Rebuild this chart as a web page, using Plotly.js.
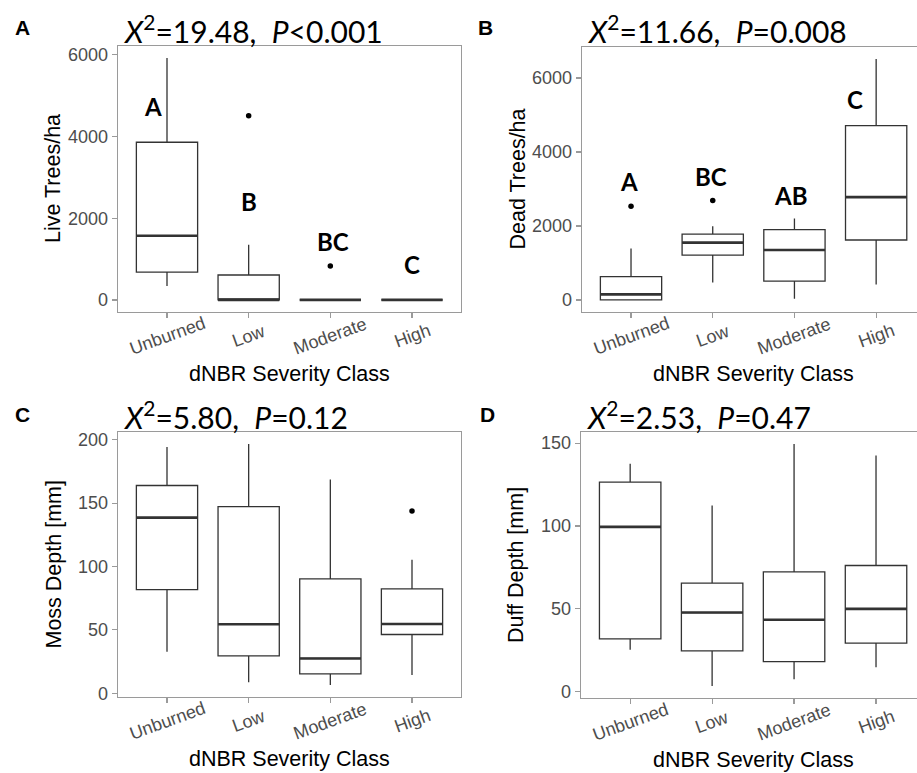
<!DOCTYPE html>
<html>
<head>
<meta charset="utf-8">
<script src="https://cdn.plot.ly/plotly-3.0.1.min.js"></script>
<style>
  html, body { margin: 0; padding: 0; background: #ffffff; }
  #chart { width: 917px; height: 773px; }
</style>
</head>
<body>
<div id="chart"></div>
<script>
// Burn severity classes (dNBR)
const categories = ['Unburned', 'Low', 'Moderate', 'High'];

// A: live trees per hectare
const liveLower  = [340, 0, 0, 0];
const liveQ1     = [680, 0, 0, 0];
const liveMedian = [1570, 0, 0, 0];
const liveQ3     = [3860, 610, 0, 0];
const liveUpper  = [5920, 1350, 0, 0];
const liveOutlierClass = ['Low', 'Moderate'];
const liveOutlierValue = [4510, 830];
const liveLetters = ['A', 'B', 'BC', 'C'];

// B: dead trees per hectare
const deadLower  = [0, 470, 30, 420];
const deadQ1     = [0, 1210, 510, 1620];
const deadMedian = [150, 1550, 1350, 2780];
const deadQ3     = [630, 1780, 1900, 4710];
const deadUpper  = [1390, 1990, 2200, 6510];
const deadOutlierClass = ['Unburned', 'Low'];
const deadOutlierValue = [2530, 2690];
const deadLetters = ['A', 'BC', 'AB', 'C'];

// C: moss depth (mm)
const mossLower  = [32.7, 8.6, 6.5, 14.4];
const mossQ1     = [81.8, 29.5, 15.2, 46.3];
const mossMedian = [138.5, 54.4, 27.4, 54.6];
const mossQ3     = [163.9, 147.2, 90.2, 82.3];
const mossUpper  = [194.2, 196.6, 168.6, 105.3];
const mossOutlierClass = ['High'];
const mossOutlierValue = [143.8];

// D: duff depth (mm)
const duffLower  = [25.2, 3.4, 7.4, 14.7];
const duffQ1     = [31.8, 24.6, 18.1, 29.2];
const duffMedian = [99.4, 47.7, 43.3, 49.9];
const duffQ3     = [126.4, 65.4, 72.3, 76.1];
const duffUpper  = [137.5, 112.3, 149.4, 142.5];
const duffOutlierClass = [];
const duffOutlierValue = [];

// Kruskal-Wallis results per panel
const chiSquare = ['19.48', '11.66', '5.80', '2.53'];
const pValue    = ['<0.001', '=0.008', '=0.12', '=0.47'];

// ---------------------------------------------------------------
const W = 917, H = 773;
const px = v => v / W;
const py = v => 1 - v / H;

const panels = [
  { tag: 'A', ytitle: 'Live Trees/ha', dtick: 2000,
    lower: liveLower, q1: liveQ1, median: liveMedian, q3: liveQ3, upper: liveUpper,
    outX: liveOutlierClass, outY: liveOutlierValue,
    letters: liveLetters, letterX: [-0.17, 1.01, 2.03, 3.0], letterY: [4735, 2408, 1428, 857],
    left: 118, right: 461, top: 46, bottom: 312, xmax: 3.6, tagX: 22, tagY: 27, titleY: 29, ytitleX: 53 },
  { tag: 'B', ytitle: 'Dead Trees/ha', dtick: 2000,
    lower: deadLower, q1: deadQ1, median: deadMedian, q3: deadQ3, upper: deadUpper,
    outX: deadOutlierClass, outY: deadOutlierValue,
    letters: deadLetters, letterX: [-0.03, 0.98, 1.95, 2.745], letterY: [3188, 3323, 2829, 5406],
    left: 582, right: 917, top: 47, bottom: 312, xmax: 3.5, tagX: 486, tagY: 27, titleY: 29, ytitleX: 517 },
  { tag: 'C', ytitle: 'Moss Depth [mm]', dtick: 50,
    lower: mossLower, q1: mossQ1, median: mossMedian, q3: mossQ3, upper: mossUpper,
    outX: mossOutlierClass, outY: mossOutlierValue,
    letters: null,
    left: 118, right: 461, top: 432, bottom: 697, xmax: 3.6, tagX: 22, tagY: 414, titleY: 415, ytitleX: 53 },
  { tag: 'D', ytitle: 'Duff Depth [mm]', dtick: 50,
    lower: duffLower, q1: duffQ1, median: duffMedian, q3: duffQ3, upper: duffUpper,
    outX: duffOutlierClass, outY: duffOutlierValue,
    letters: null,
    left: 581, right: 917, top: 432, bottom: 698, xmax: 3.5, tagX: 487, tagY: 414, titleY: 415, ytitleX: 516 }
];

const boxColor = '#333333';
const frameColor = '#9a9a9a';
const tickFont = { family: 'Liberation Sans, Arial, sans-serif', size: 18, color: '#4d4d4d' };
const titleFont = { family: 'Liberation Sans, Arial, sans-serif', size: 21.5, color: '#000000' };

const traces = [];
const annotations = [];
const layout = {
  width: W, height: H,
  margin: { l: 0, r: 0, t: 0, b: 0 },
  paper_bgcolor: '#ffffff', plot_bgcolor: '#ffffff',
  showlegend: false, hovermode: false,
  boxmode: 'overlay',
  annotations: annotations
};

panels.forEach((p, i) => {
  const n = i + 1;
  const xa = n === 1 ? 'x' : 'x' + n;
  const ya = n === 1 ? 'y' : 'y' + n;
  const xKey = n === 1 ? 'xaxis' : 'xaxis' + n;
  const yKey = n === 1 ? 'yaxis' : 'yaxis' + n;

  // ggplot-style 5% padding on the value axis
  const all = p.lower.concat(p.upper, p.outY);
  const lo = Math.min.apply(null, all), hi = Math.max.apply(null, all);
  const pad = 0.05 * (hi - lo);

  layout[xKey] = {
    domain: [px(p.left), px(p.right)], anchor: ya,
    type: 'category', categoryorder: 'array', categoryarray: categories,
    range: [-0.6, p.xmax],
    showline: true, mirror: true, linecolor: frameColor, linewidth: 1.3,
    ticks: 'outside', ticklen: 5, tickwidth: 1.2, tickcolor: frameColor,
    showticklabels: false, showgrid: false, zeroline: false, fixedrange: true
  };
  layout[yKey] = {
    domain: [py(p.bottom), py(p.top)], anchor: xa,
    range: [lo - pad, hi + pad], dtick: p.dtick, tick0: 0,
    showline: true, mirror: true, linecolor: frameColor, linewidth: 1.3,
    ticks: 'outside', ticklen: 5, tickwidth: 1.2, tickcolor: frameColor,
    tickfont: tickFont, showgrid: false, zeroline: false, fixedrange: true
  };

  // boxes with precomputed statistics
  traces.push({
    type: 'box', xaxis: xa, yaxis: ya, x: categories,
    q1: p.q1, median: p.median, q3: p.q3, lowerfence: p.lower, upperfence: p.upper,
    boxpoints: false, width: 0.75, whiskerwidth: 0,
    fillcolor: '#ffffff', line: { color: boxColor, width: 1.3 }
  });
  // heavier median bar drawn over each box
  traces.push({
    type: 'box', xaxis: xa, yaxis: ya, x: categories,
    q1: p.median, median: p.median, q3: p.median, lowerfence: p.median, upperfence: p.median,
    boxpoints: false, width: 0.75, whiskerwidth: 0,
    fillcolor: 'rgba(0,0,0,0)', line: { color: boxColor, width: 2.6 }
  });
  // outlying observations
  if (p.outY.length) {
    traces.push({
      type: 'scatter', mode: 'markers', xaxis: xa, yaxis: ya,
      x: p.outX, y: p.outY,
      marker: { color: '#000000', size: 5.5 }, cliponaxis: false
    });
  }

  // panel tag
  annotations.push({
    xref: 'paper', yref: 'paper', x: px(p.tagX), y: py(p.tagY),
    xanchor: 'center', yanchor: 'middle', showarrow: false, text: p.tag,
    font: { family: 'Liberation Sans, Arial, sans-serif', size: 21, color: '#000000', weight: 'bold' }
  });
  // test statistic heading
  annotations.push({
    xref: 'paper', yref: 'paper', x: px(p.left + 3), y: py(p.titleY),
    xanchor: 'left', yanchor: 'middle', showarrow: false,
    text: '<i>X</i><sup>2</sup>=' + chiSquare[i] + ',\u00a0 <i>P</i>' + pValue[i].replace('<', '&lt;'),
    font: { family: 'Lato, Open Sans, sans-serif', size: 30, color: '#000000' }
  });
  // value-axis title
  annotations.push({
    xref: 'paper', yref: 'paper', x: px(p.ytitleX), y: py((p.top + p.bottom) / 2),
    xanchor: 'center', yanchor: 'middle', textangle: -90, showarrow: false,
    text: p.ytitle, font: titleFont
  });
  // category-axis title, centred on the full panel width (panels B and D run past the page edge)
  const cx = p.left + (p.right - p.left) * 2.1 / (p.xmax + 0.6);
  annotations.push({
    xref: 'paper', yref: 'paper', x: px(cx), y: py(p.bottom + 62),
    xanchor: 'center', yanchor: 'middle', showarrow: false,
    text: 'dNBR Severity Class', font: titleFont
  });
  // slanted category labels, centred under each tick
  categories.forEach(c => {
    annotations.push({
      xref: xa, yref: 'paper', x: c, y: py(p.bottom + 24),
      xanchor: 'center', yanchor: 'middle', textangle: -20, showarrow: false,
      text: c, font: tickFont
    });
  });
  // post-hoc group letters
  if (p.letters) {
    p.letters.forEach((t, k) => {
      annotations.push({
        xref: xa, yref: ya, x: p.letterX[k], y: p.letterY[k],
        xanchor: 'center', yanchor: 'middle', showarrow: false, text: t,
        font: { family: 'Lato, Open Sans, sans-serif', size: 24, color: '#000000', weight: 'bold' }
      });
    });
  }
});

Plotly.newPlot('chart', traces, layout, { staticPlot: true, displayModeBar: false });
</script>
</body>
</html>
